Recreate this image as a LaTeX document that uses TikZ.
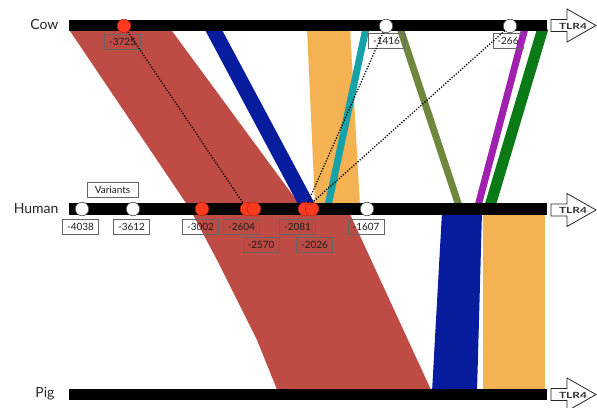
\documentclass[tikz,border=0pt]{standalone}
\usepackage{fontspec}
\setmainfont{Lato}
\definecolor{bandred}{RGB}{184,60,52}
\definecolor{dotred}{RGB}{255,58,30}
\definecolor{dotredline}{RGB}{190,35,15}
\definecolor{bandblue}{RGB}{8,28,158}
\definecolor{bandorange}{RGB}{244,178,82}
\definecolor{bandteal}{RGB}{22,162,168}
\definecolor{bandolive}{RGB}{112,136,62}
\definecolor{bandpurple}{RGB}{160,32,176}
\definecolor{bandgreen}{RGB}{10,122,22}
\begin{document}
\begin{tikzpicture}[x=1pt,y=-1pt,
 lblbase/.style={inner xsep=4.5pt, inner ysep=0pt, minimum height=15pt, line width=0.6pt, font=\fontsize{10}{10}\selectfont},
 lblbg/.style={lblbase, fill=white},
 lbl/.style={lblbase, draw=black!60, text=black!88},
 species/.style={anchor=east, font=\fontsize{14}{14}\selectfont, text=black!85},
 reddot/.style={circle, draw=dotredline, line width=0.5pt, fill=dotred, minimum size=13.5pt, inner sep=0pt},
 whitedot/.style={circle, draw=black!70, line width=0.6pt, fill=white, minimum size=13.5pt, inner sep=0pt},
 link/.style={black, line width=1.3pt, dash pattern=on 1.2pt off 1.6pt},
 tlr/.pic={
   \draw[fill=white, line width=0.8pt, draw=black!85] (0,-6) -- (16,-6) -- (16,-16.5) -- (45,0) -- (16,16.5) -- (16,6) -- (0,6) -- cycle;
   \node[font=\bfseries\fontsize{8.5}{8.5}\selectfont, xscale=1.4, text=black!80] at (22,0.5) {TLR4};
 }
]
\useasboundingbox (0,0) rectangle (597,407);

% white backgrounds of the label boxes (under the bands)
\node[lblbg] (b3725) at (122.5,41.5) {\phantom{-3725}};
\node[lblbg] (b1416) at (386.5,41) {\phantom{-1416}};
\node[lblbg] (b266) at (508,41) {\phantom{-266}};
\node[lblbg, minimum width=51pt] (bvar) at (112.5,189.5) {\phantom{Variants}};
\node[lblbg] (b4038) at (80.5,227) {\phantom{-4038}};
\node[lblbg] (b3612) at (131.5,227) {\phantom{-3612}};
\node[lblbg] (b3002) at (200.5,227) {\phantom{-3002}};
\node[lblbg] (b2604) at (241.5,227) {\phantom{-2604}};
\node[lblbg] (b2570) at (261,244.5) {\phantom{-2570}};
\node[lblbg] (b2081) at (297.5,227) {\phantom{-2081}};
\node[lblbg] (b2026) at (314.5,244.5) {\phantom{-2026}};
\node[lblbg] (b1607) at (366,227) {\phantom{-1607}};

% bands
\fill[bandred, opacity=0.92] (70,31) -- (172,31) -- (300,205) -- (349,212) -- (432,392) -- (278,392) -- (257,340) -- (217,260) -- (190,209) -- cycle;
\fill[bandblue] (204,28) -- (221,28) -- (316,206) -- (299,206) -- cycle;
\fill[bandorange] (307,28) -- (350,28) -- (360,206) -- (315,206) -- cycle;
\draw[bandteal, line width=7pt] (366,28) -- (328,206);
\draw[bandolive, line width=7pt] (400,28) -- (459,206);
\draw[bandgreen, line width=11pt] (543,28) -- (490,206);
\draw[white, line width=9pt] (525,28) -- (478,206);
\draw[bandpurple, line width=7pt] (525,28) -- (478,206);
\fill[bandblue] (442,212) -- (482,212) -- (477,392) -- (432,392) -- cycle;
\fill[bandorange] (483,212) -- (545,212) -- (545,392) -- (483,392) -- cycle;

% label frames and texts (on top)
\node[lbl] (l3725) at (b3725) {-3725};
\node[lbl] (l1416) at (b1416) {-1416};
\node[lbl] (l266) at (b266) {-266};
\node[lbl, minimum width=51pt] (var) at (bvar) {Variants};
\node[lbl] (l4038) at (b4038) {-4038};
\node[lbl] (l3612) at (b3612) {-3612};
\node[lbl] (l3002) at (b3002) {-3002};
\node[lbl] (l2604) at (b2604) {-2604};
\node[lbl] (l2570) at (b2570) {-2570};
\node[lbl] (l2081) at (b2081) {-2081};
\node[lbl] (l2026) at (b2026) {-2026};
\node[lbl] (l1607) at (b1607) {-1607};

% bars
\fill[black] (69,20) rectangle (547,31);
\fill[black] (69,203) rectangle (547,215);
\fill[black] (69,389) rectangle (547,400);

% species names
\node[species] (cow) at (62,24) {Cow};
\node[species] (human) at (62,209) {Human};
\node[species] (pig) at (58,394) {Pig};

% arrows
\pic at (551,25.5) {tlr};
\pic at (551,210) {tlr};
\pic at (551,394.5) {tlr};

% dots
\node[reddot] (c3725) at (124,26) {};
\node[whitedot] (c1416) at (386,26) {};
\node[whitedot] (c266) at (510,26) {};
\node[whitedot] (h4038) at (82,209) {};
\node[whitedot] (h3612) at (133,209) {};
\node[reddot] (h3002) at (202,209) {};
\node[reddot] (h2604) at (247,209) {};
\node[reddot] (h2570) at (254,209) {};
\node[reddot] (h2081) at (305,209) {};
\node[reddot] (h2026) at (312,209) {};
\node[whitedot] (h1607) at (367,209) {};

% dotted links
\draw[link] (c3725) -- (h2604);
\draw[link] (c1416) -- (h2081);
\draw[link] (c266) -- (h2081);
\end{tikzpicture}
\end{document}
